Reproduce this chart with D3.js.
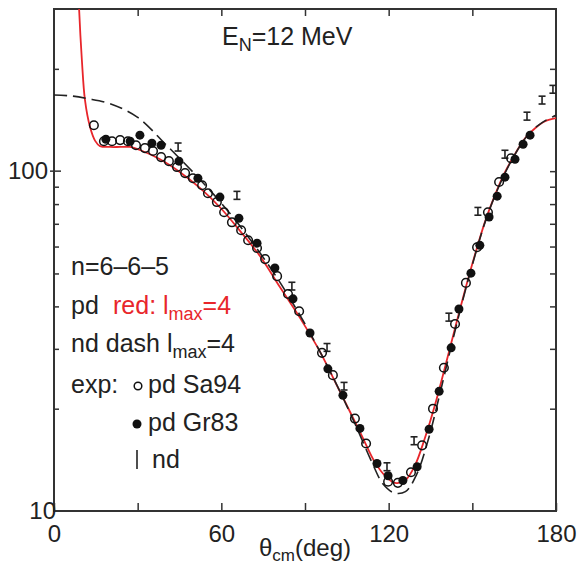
<!DOCTYPE html>
<html>
<head>
<meta charset="utf-8">
<script src="https://cdn.jsdelivr.net/npm/d3@7"></script>
<style>
body { margin: 0; background: #fff; }
text { font-family: "Liberation Sans", Arial, Helvetica, sans-serif; }
.axis path { stroke: none; }
.axis line { stroke: #333; stroke-width: 1.5; }
.axis text { font-size: 24px; fill: #222; }
</style>
</head>
<body>
<div id="plot"></div>
<script>
// theory curves: pd (red) and nd (dashed), angle in deg, cross section
var redTheta = [8.4, 9.0, 10.0, 11.1, 12.9, 14.7, 16.5, 20.1, 23.7, 27.3, 30.8, 38.0, 45.2, 52.4, 59.5, 66.7, 73.9, 81.0, 88.2, 95.4, 102.6, 109.7, 115.1, 118.7, 122.3, 125.9, 129.4, 133.0, 136.6, 140.2, 143.8, 147.4, 151.0, 154.5, 158.1, 161.7, 165.3, 168.9, 172.5, 176.1, 180];
var redValue = [420, 300, 212, 162, 135, 123, 118.5, 117.8, 117.8, 117.8, 115.4, 108.4, 99.3, 89.1, 78.3, 66.7, 56.2, 45.6, 37.0, 29.4, 22.4, 17.1, 13.9, 12.7, 12.1, 12.3, 13.6, 16.4, 20.5, 26.5, 34.5, 44.7, 57.0, 70.8, 85.0, 99.3, 112.2, 125.0, 133.7, 140.2, 143.2];

var dashTheta = [0, 6, 12, 20, 30, 40, 50, 60, 70, 80, 90, 100, 108, 114, 118, 122, 126, 130, 134, 138, 142, 146, 150, 155, 160, 165, 170, 175, 180];
var dashValue = [167.5, 166.5, 163.5, 158, 144, 120, 99, 80.5, 63.5, 48.5, 35.5, 24.8, 18.0, 13.9, 12.0, 11.3, 11.4, 12.8, 16.0, 21.5, 29.5, 40, 53, 72.5, 92, 111, 128, 139, 146];

// exp: pd Sa94 (open circles)
var sa94Theta = [14.3, 17.9, 20.8, 23.7, 26.5, 29.4, 32.6, 35.5, 38.4, 41.2, 44.1, 47.0, 49.8, 53.1, 55.2, 58.4, 61.0, 63.8, 67.1, 69.6, 72.8, 75.7, 80.0, 83.9, 87.9, 96.1, 100.0, 107.9, 111.9, 119.8, 123.3, 128.0, 132.0, 135.9, 139.8, 143.8, 147.7, 151.7, 155.6, 159.6, 163.9];
var sa94Value = [136.5, 122.5, 122.5, 123.4, 122.5, 119.2, 116.9, 114.6, 110.0, 107.0, 102.8, 98.7, 95.3, 90.9, 86.1, 81.1, 75.7, 70.7, 67.0, 62.6, 59.4, 55.1, 49.1, 43.5, 38.7, 29.2, 25.1, 18.7, 15.8, 12.2, 12.1, 13.0, 15.6, 20.0, 26.4, 35.5, 46.9, 59.7, 75.7, 92.9, 109.1];

// exp: pd Gr83 (filled circles)
var gr83Theta = [18.6, 27.3, 30.8, 35.1, 38.4, 44.8, 51.6, 59.5, 66.3, 72.8, 79.2, 85.7, 91.8, 98.2, 103.6, 109.7, 115.8, 119.8, 125.1, 130.2, 134.5, 138.1, 142.4, 145.2, 149.5, 152.7, 156.0, 158.9, 161.7, 165.3, 168.2, 170.7];
var gr83Value = [124.1, 122.5, 127.6, 120.8, 119.2, 107.0, 95.3, 83.9, 72.7, 61.4, 51.9, 42.1, 33.4, 26.2, 21.9, 17.5, 13.8, 12.7, 12.3, 13.5, 17.4, 22.5, 30.2, 39.3, 50.1, 60.5, 73.3, 84.4, 96.0, 108.4, 120.0, 127.6];

// exp: nd (error bars)
var ndTheta = [44.5, 65.6, 85.3, 97.9, 104.0, 119.4, 129.1, 141.6, 152.0, 161.7, 169.6, 175.0, 178.9];
var ndValue = [117.8, 84.9, 45.9, 30.3, 23.3, 13.5, 16.1, 37.2, 76.2, 112.2, 145.2, 161.9, 174.2];
var ndError = [3.2, 2.3, 1.2, 0.8, 0.6, 0.36, 0.43, 1.0, 2.0, 3.0, 3.9, 4.3, 4.6];

var xMajor = [0, 60, 120, 180];
var xMinor = [30, 90, 150];
var yMajor = [10, 100];
var yMinor = [20, 30, 40, 50, 60, 70, 80, 90, 200];

function zip(xs, ys){
    return xs.map(function(x, i){ return {x: x, y: ys[i]}; });
}

var svgWidth = 579, svgHeight = 576;
var padLeft = 54, padRight = 556, padTop = 9, padBottom = 511;

var svg = d3.select('#plot').append('svg')
    .attr('width', svgWidth)
    .attr('height', svgHeight);

var xScale = d3.scaleLinear().domain([0, 180]).range([padLeft, padRight]);
var yScale = d3.scaleLog().domain([10, 300]).range([padBottom, padTop]);

svg.append('clipPath').attr('id', 'clip')
    .append('rect')
    .attr('x', padLeft).attr('y', padTop)
    .attr('width', padRight - padLeft).attr('height', padBottom - padTop);

// frame
svg.append('rect')
    .attr('x', padLeft).attr('y', padTop)
    .attr('width', padRight - padLeft).attr('height', padBottom - padTop)
    .style('fill', 'none')
    .style('stroke', '#333')
    .style('stroke-width', 2);

// x ticks (inside), labels only at bottom
svg.append('g').attr('class', 'axis')
    .attr('transform', 'translate(0,' + padBottom + ')')
    .call(d3.axisBottom(xScale).tickValues(xMajor.concat(xMinor)).tickSize(-8).tickPadding(14)
        .tickFormat(function(d){ return xMajor.indexOf(d) >= 0 ? d : ''; }));
svg.append('g').attr('class', 'axis')
    .attr('transform', 'translate(0,' + padTop + ')')
    .call(d3.axisTop(xScale).tickValues(xMinor.concat([60, 120])).tickSize(-7).tickFormat(''));

// y ticks
svg.append('g').attr('class', 'axis')
    .attr('transform', 'translate(' + padLeft + ',0)')
    .call(d3.axisLeft(yScale).tickValues(yMinor).tickSize(-5).tickFormat(''));
svg.append('g').attr('class', 'axis')
    .attr('transform', 'translate(' + padRight + ',0)')
    .call(d3.axisRight(yScale).tickValues(yMinor.concat([100])).tickSize(-6).tickFormat(''));
svg.selectAll('.ymaj').data([100]).enter().append('line')
    .attr('x1', padLeft - 4).attr('x2', padLeft + 7)
    .attr('y1', function(d){ return yScale(d); })
    .attr('y2', function(d){ return yScale(d); })
    .style('stroke', '#333').style('stroke-width', 1.5);
svg.selectAll('.ylab').data(yMajor).enter().append('text')
    .attr('x', function(d){ return d == 10 ? padLeft + 2 : padLeft - 6; })
    .attr('y', function(d){ return yScale(d) + 8; })
    .attr('text-anchor', 'end')
    .style('font-size', '24px')
    .style('fill', '#222')
    .text(function(d){ return d; });

var line = d3.line()
    .x(function(d){ return xScale(d.x); })
    .y(function(d){ return yScale(d.y); })
    .curve(d3.curveCatmullRom);

var plot = svg.append('g').attr('clip-path', 'url(#clip)');

plot.append('path').datum(zip(redTheta, redValue))
    .attr('d', line)
    .style('fill', 'none')
    .style('stroke', '#e8262b')
    .style('stroke-width', 1.8);

plot.append('path').datum(zip(dashTheta, dashValue))
    .attr('d', line)
    .style('fill', 'none')
    .style('stroke', '#222')
    .style('stroke-width', 1.6)
    .style('stroke-dasharray', '13,6');

// nd error bars
var nd = ndTheta.map(function(t, i){ return {x: t, y: ndValue[i], e: ndError[i]}; });
var bars = plot.selectAll('.nd').data(nd).enter().append('g').attr('class', 'nd')
    .style('stroke', '#222').style('stroke-width', 1.6);
bars.append('line')
    .attr('x1', function(d){ return xScale(d.x); })
    .attr('x2', function(d){ return xScale(d.x); })
    .attr('y1', function(d){ return yScale(d.y - d.e); })
    .attr('y2', function(d){ return yScale(d.y + d.e); });
bars.append('line')
    .attr('x1', function(d){ return xScale(d.x) - 3.5; })
    .attr('x2', function(d){ return xScale(d.x) + 3.5; })
    .attr('y1', function(d){ return yScale(d.y - d.e); })
    .attr('y2', function(d){ return yScale(d.y - d.e); });
bars.append('line')
    .attr('x1', function(d){ return xScale(d.x) - 3.5; })
    .attr('x2', function(d){ return xScale(d.x) + 3.5; })
    .attr('y1', function(d){ return yScale(d.y + d.e); })
    .attr('y2', function(d){ return yScale(d.y + d.e); });

plot.selectAll('.sa94').data(zip(sa94Theta, sa94Value)).enter().append('circle')
    .attr('r', 4.3)
    .attr('cx', function(d){ return xScale(d.x); })
    .attr('cy', function(d){ return yScale(d.y); })
    .style('fill', 'none')
    .style('stroke', '#111')
    .style('stroke-width', 1.5);

plot.selectAll('.gr83').data(zip(gr83Theta, gr83Value)).enter().append('circle')
    .attr('r', 4.5)
    .attr('cx', function(d){ return xScale(d.x); })
    .attr('cy', function(d){ return yScale(d.y); })
    .style('fill', '#111');

// labels
var title = svg.append('text').attr('x', 222).attr('y', 45).style('font-size', '25px').style('fill', '#222');
title.append('tspan').text('E');
title.append('tspan').attr('dy', 6).style('font-size', '18px').text('N');
title.append('tspan').attr('dy', -6).text('=12 MeV');

var xl = svg.append('text').attr('x', 305).attr('y', 556).attr('text-anchor', 'middle')
    .style('font-size', '24px').style('fill', '#222');
xl.append('tspan').text('θ');
xl.append('tspan').attr('dy', 5).style('font-size', '17px').text('cm');
xl.append('tspan').attr('dy', -5).text('(deg)');

var fs = '25px';
svg.append('text').attr('x', 71).attr('y', 275).style('font-size', fs).style('fill', '#222').text('n=6–6–5');

svg.append('text').attr('x', 71).attr('y', 314).style('font-size', fs).style('fill', '#222').text('pd');
var r1 = svg.append('text').attr('x', 113).attr('y', 314).style('font-size', fs).style('fill', '#e8262b');
r1.append('tspan').text('red: l');
r1.append('tspan').attr('dy', 6).style('font-size', '18px').text('max');
r1.append('tspan').attr('dy', -6).text('=4');

var r2 = svg.append('text').attr('x', 71).attr('y', 352).style('font-size', fs).style('fill', '#222');
r2.append('tspan').text('nd dash l');
r2.append('tspan').attr('dy', 6).style('font-size', '18px').text('max');
r2.append('tspan').attr('dy', -6).text('=4');

svg.append('text').attr('x', 71).attr('y', 393).style('font-size', fs).style('fill', '#222').text('exp:');
svg.append('circle').attr('cx', 138).attr('cy', 386).attr('r', 3.8)
    .style('fill', 'none').style('stroke', '#111').style('stroke-width', 1.5);
svg.append('text').attr('x', 148).attr('y', 393).style('font-size', fs).style('fill', '#222').text('pd Sa94');

svg.append('circle').attr('cx', 137).attr('cy', 424).attr('r', 4.5).style('fill', '#111');
svg.append('text').attr('x', 148).attr('y', 431).style('font-size', fs).style('fill', '#222').text('pd Gr83');

svg.append('line').attr('x1', 137).attr('x2', 137).attr('y1', 450).attr('y2', 469)
    .style('stroke', '#222').style('stroke-width', 1.6);
svg.append('text').attr('x', 152).attr('y', 468).style('font-size', fs).style('fill', '#222').text('nd');
</script>
</body>
</html>
